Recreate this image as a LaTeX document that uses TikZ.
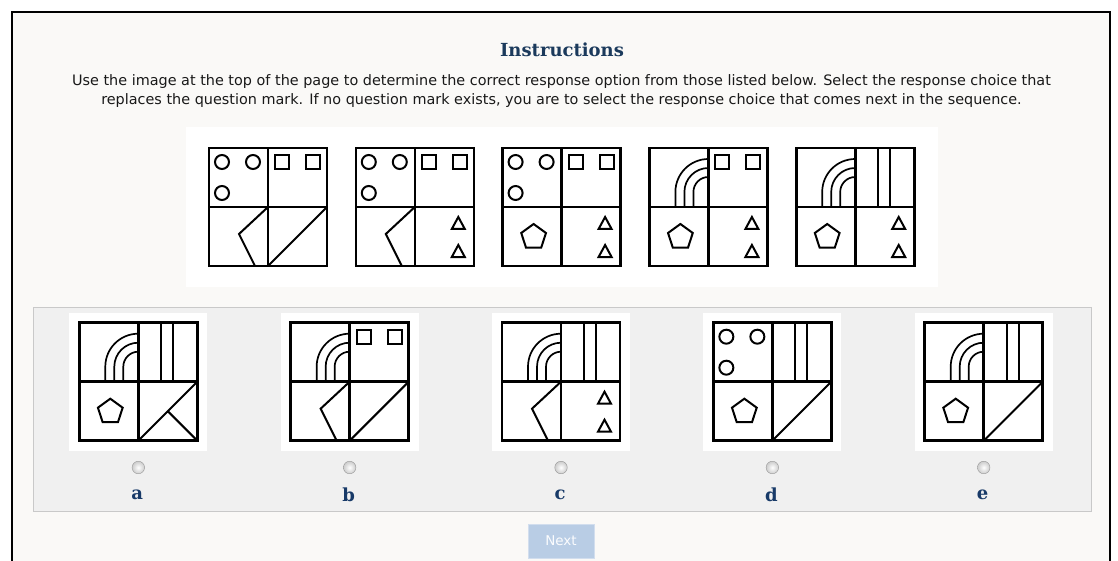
\documentclass[tikz,border=0pt]{standalone}
\usepackage{fontspec}
\usepackage{tikz}
\usetikzlibrary{calc, positioning}
\newfontfamily\verdana{DejaVu Sans}
\newfontfamily\georgia{DejaVu Serif}
\definecolor{pagebg}{RGB}{250, 249, 247}
\definecolor{boxgray}{RGB}{240, 240, 240}
\definecolor{boxline}{RGB}{201, 201, 201}
\definecolor{headnavy}{RGB}{27, 58, 92}
\definecolor{letternavy}{RGB}{24, 58, 104}
\definecolor{btnblue}{RGB}{185, 205, 229}
\definecolor{btnline}{RGB}{210, 222, 238}
\definecolor{radioline}{RGB}{150, 150, 150}
\tikzset{
  gridline/.style={line width=2.6pt, line cap=rect},
  figline/.style={line width=2pt, line join=miter},
  arcline/.style={line width=1.7pt},
  radio/.style={circle, draw=radioline, inner color=white, outer color=gray!40,
                minimum size=12.5pt, inner sep=0pt},
  letter/.style={font=\georgia\bfseries\fontsize{18}{20}\selectfont, text=letternavy},
}
%--- quadrant contents, card coordinates 0..118, y pointing down ---
\newcommand{\qcircles}{%
  \draw[figline] (13,14) circle(7) (44,14) circle(7) (13,45) circle(7);}
\newcommand{\qsquares}{%
  \draw[figline] (66,7) rectangle (80,21) (97,7) rectangle (111,21);}
\newcommand{\qbars}{%
  \draw[figline] (82,0) -- (82,59) (94,0) -- (94,59);}
\newcommand{\qarcs}{%
  \foreach \r in {33,24,15}
    \draw[arcline] (59,{44-\r}) arc[start angle=270, end angle=180, radius=\r]
      -- ({59-\r},59);}
\newcommand{\qkite}{\draw[figline] (59,59) -- (30,86) -- (46,118);}
\newcommand{\qdiag}{\draw[figline] (59,118) -- (118,59);}
\newcommand{\qcross}{\draw[figline] (59,118) -- (118,59) (88.5,88.5) -- (118,118);}
\newcommand{\qpenta}{%
  \draw[figline] (31,89) +(-90:13) -- +(-18:13) -- +(54:13) -- +(126:13)
    -- +(198:13) -- cycle;}
\newcommand{\qtris}{%
  \draw[figline] (102.5,69) -- (109,81) -- (96,81) -- cycle
                 (102.5,97) -- (109,109) -- (96,109) -- cycle;}
%--- one card: #1 origin, then TL TR BL BR ---
\newcommand{\card}[5]{%
  \begin{scope}[shift={#1}]
    #2 #3 #4 #5
    \draw[gridline] (0,0) rectangle (118,118) (59,0) -- (59,118) (0,59) -- (118,59);
  \end{scope}}

\begin{document}
\begin{tikzpicture}[x=1pt, y=-1pt]
  \useasboundingbox (0,0) rectangle (1118,561);
  %--- page ---
  \fill[white] (0,0) rectangle (1118,561);
  \fill[pagebg] (12,12) rectangle (1110,561);
  \draw[line width=2pt] (12,561) -- (12,12) -- (1110,12) -- (1110,561);

  %--- heading ---
  \node[font=\georgia\bfseries\fontsize{18}{20}\selectfont, text=headnavy]
    (title) at (562,50) {Instructions};
  \node[font=\verdana\fontsize{14.4}{19}\selectfont, align=center, text=black!90]
    (instr) at (561.5,91.5)
    {Use the image at the top of the page to determine the correct response option from those listed below. Select the response choice that\\
     replaces the question mark. If no question mark exists, you are to select the response choice that comes next in the sequence.};

  %--- sequence strip ---
  \fill[white] (186,127) rectangle (938,287);
  \card{(209,148)}{\qcircles}{\qsquares}{\qkite}{\qdiag}
  \card{(355.8,148)}{\qcircles}{\qsquares}{\qkite}{\qtris}
  \card{(502.6,148)}{\qcircles}{\qsquares}{\qpenta}{\qtris}
  \card{(649.4,148)}{\qarcs}{\qsquares}{\qpenta}{\qtris}
  \card{(796.2,148)}{\qarcs}{\qbars}{\qpenta}{\qtris}

  %--- response options ---
  \draw[boxline, fill=boxgray] (33,307) rectangle (1091,511);
  \foreach \x in {79.3, 290.65, 502, 713.35, 924.7}
    \fill[white] ({\x-10},313) rectangle ({\x+128},451);
  \card{(79.3,322.7)}{\qarcs}{\qbars}{\qpenta}{\qcross}
  \card{(290.65,322.7)}{\qarcs}{\qsquares}{\qkite}{\qdiag}
  \card{(502,322.7)}{\qarcs}{\qbars}{\qkite}{\qtris}
  \card{(713.35,322.7)}{\qcircles}{\qbars}{\qpenta}{\qdiag}
  \card{(924.7,322.7)}{\qarcs}{\qbars}{\qpenta}{\qdiag}
  \foreach \x/\l in {79.3/a, 290.65/b, 502/c, 713.35/d, 924.7/e} {
    \node[radio] (radio\l) at ({\x+59},467.5) {};
    \node[letter] (label\l) at ({\x+58},495) {\l};
  }

  %--- next button ---
  \node[draw=btnline, fill=btnblue, minimum width=66pt, minimum height=34pt,
        font=\verdana\fontsize{13.5}{15}\selectfont, text=white!95!btnblue]
    (next) at (561,541) {Next};
\end{tikzpicture}
\end{document}
